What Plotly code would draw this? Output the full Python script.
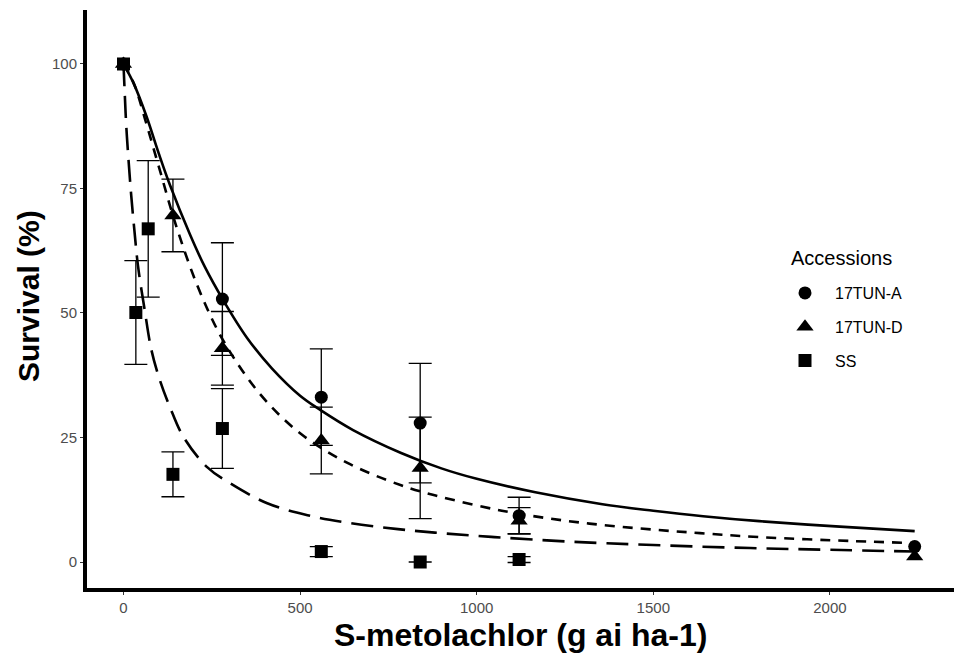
import plotly.graph_objects as go

# ---- observed survival data (mean ± SE; None = no error bar drawn) ----
a_dose = [0, 280, 560, 840, 1120, 2240]
a_surv = [100, 52.8, 33.1, 27.9, 9.3, 3.1]
a_se   = [None, 11.3, 9.7, 12.0, 3.7, None]

d_dose = [0, 140, 280, 560, 840, 1120, 2240]
d_surv = [100, 69.6, 42.9, 24.4, 18.9, 8.3, 1.1]
d_se   = [None, 7.3, 7.4, 6.7, 10.2, 2.6, None]

s_dose = [0, 35, 70, 140, 280, 560, 840, 1120]
s_surv = [100, 50.1, 66.9, 17.6, 26.8, 2.1, 0, 0.5]
s_se   = [None, 10.4, 13.7, 4.5, 8.0, 1.0, 0, 0.6]

# ---- fitted dose-response curves ----
a_fit_x = [0, 30, 65, 100, 131, 188, 230, 283, 350, 420, 500, 558, 650, 786, 900, 1000,
           1166, 1356, 1500, 1641, 1800, 2028, 2240]
a_fit_y = [100, 95.9, 89.5, 82, 75.8, 65.8, 59.3, 52.5, 45.0, 38.9, 33.4, 30.5, 26.5, 21.9, 18.8, 16.7,
           14.0, 11.6, 10.3, 9.2, 8.2, 7.1, 6.2]

d_fit_x = [0, 30, 64, 100, 150, 212, 283, 388, 501, 634, 786, 881, 1071, 1261, 1451, 1632,
           1802, 2066, 2240]
d_fit_y = [100, 96, 88.2, 79.4, 67.3, 55.0, 44.4, 33.6, 25.8, 19.9, 15.4, 13.4, 10.3, 8.2, 6.8, 5.8,
           5.0, 4.2, 3.8]

s_fit_x = [0, 3, 8, 15, 22, 31, 41, 60, 79, 103, 131, 169, 236, 302, 407, 521, 634, 777, 881,
           1050, 1261, 1500, 1775, 2000, 2240]
s_fit_y = [100, 95, 87.4, 80, 73.5, 66.5, 59.5, 50.6, 42.6, 36.5, 31.2, 25.2, 19.1, 15.8, 11.8,
           9.4, 7.9, 6.6, 5.9, 5.0, 4.1, 3.4, 2.8, 2.45, 2.1]

x_ticks = [0, 500, 1000, 1500, 2000]
y_ticks = [0, 25, 50, 75, 100]

FONT = "Liberation Sans, Arial, sans-serif"

W, H = 954, 653
ML, MR, MT, MB = 87, 0, 10, 65
PW, PH = W - ML - MR, H - MT - MB

fig = go.Figure()

# curves
fig.add_trace(go.Scatter(x=a_fit_x, y=a_fit_y, mode="lines", showlegend=False, hoverinfo="skip",
                         line=dict(color="black", width=2.6, shape="spline", dash="solid")))
fig.add_trace(go.Scatter(x=d_fit_x, y=d_fit_y, mode="lines", showlegend=False, hoverinfo="skip",
                         line=dict(color="black", width=2.6, shape="spline", dash="10px,8px")))
fig.add_trace(go.Scatter(x=s_fit_x, y=s_fit_y, mode="lines", showlegend=False, hoverinfo="skip",
                         line=dict(color="black", width=2.6, shape="spline", dash="22px,10px")))

def errbars(x, y, se):
    keep = [i for i, s in enumerate(se) if s is not None]
    return go.Scatter(
        x=[x[i] for i in keep], y=[y[i] for i in keep], mode="markers",
        showlegend=False, hoverinfo="skip",
        marker=dict(size=1, color="rgba(0,0,0,0)"),
        error_y=dict(type="data", array=[se[i] for i in keep], visible=True,
                     color="black", thickness=1.3, width=11.5),
    )

def pts(x, y, name, symbol, size):
    return go.Scatter(
        x=x, y=y, mode="markers", name=name, legendgroup=name,
        marker=dict(symbol=symbol, size=size, color="black"),
    )

fig.add_trace(errbars(a_dose, a_surv, a_se))
fig.add_trace(errbars(d_dose, d_surv, d_se))
fig.add_trace(errbars(s_dose, s_surv, s_se))
fig.add_trace(pts(a_dose, a_surv, "17TUN-A", "circle", 13))
fig.add_trace(pts(d_dose, d_surv, "17TUN-D", "triangle-up", 15))
fig.add_trace(pts(s_dose, s_surv, "SS", "square", 13))

def px_x(p):
    return (p - ML) / PW

def px_y(p):
    return (H - MB - p) / PH

fig.update_layout(
    width=W, height=H,
    margin=dict(l=ML, r=MR, t=MT, b=MB, autoexpand=False),
    paper_bgcolor="white", plot_bgcolor="white",
    font=dict(family=FONT, color="black"),
    legend=dict(
        font=dict(size=16, color="black"),
        x=px_x(775), xanchor="left", y=px_y(276), yanchor="top",
        bgcolor="rgba(0,0,0,0)", tracegroupgap=10, itemsizing="trace", itemwidth=50,
    ),
    xaxis=dict(
        range=[-103.3, 2351.3], tickvals=x_ticks, showgrid=False, zeroline=False,
        showline=True, linecolor="black", linewidth=4, automargin=False,
        ticks="outside", ticklen=3, tickcolor="#333333", tickwidth=1,
        tickfont=dict(size=15, color="#4d4d4d"),
    ),
    yaxis=dict(
        range=[-5.22, 110.84], tickvals=y_ticks, showgrid=False, zeroline=False,
        showline=True, linecolor="black", linewidth=4, automargin=False,
        ticks="outside", ticklen=3, tickcolor="#333333", tickwidth=1,
        tickfont=dict(size=15, color="#4d4d4d"),
    ),
    annotations=[
        dict(text="S-metolachlor (g ai ha-1)", xref="paper", yref="paper",
             x=px_x(520), y=px_y(635), xanchor="center", yanchor="middle", showarrow=False,
             font=dict(size=32, weight="bold", color="black")),
        dict(text="Survival (%)", xref="paper", yref="paper", textangle=-90,
             x=px_x(28), y=px_y(296), xanchor="center", yanchor="middle", showarrow=False,
             font=dict(size=30, weight="bold", color="black")),
        dict(text="Accessions", xref="paper", yref="paper",
             x=px_x(789), y=px_y(258), xanchor="left", yanchor="middle", showarrow=False,
             font=dict(size=20, color="black")),
    ],
)

fig.write_html("out.html", config={"displayModeBar": False},
               post_script="document.body.style.margin='0px';document.body.style.padding='0px';")
